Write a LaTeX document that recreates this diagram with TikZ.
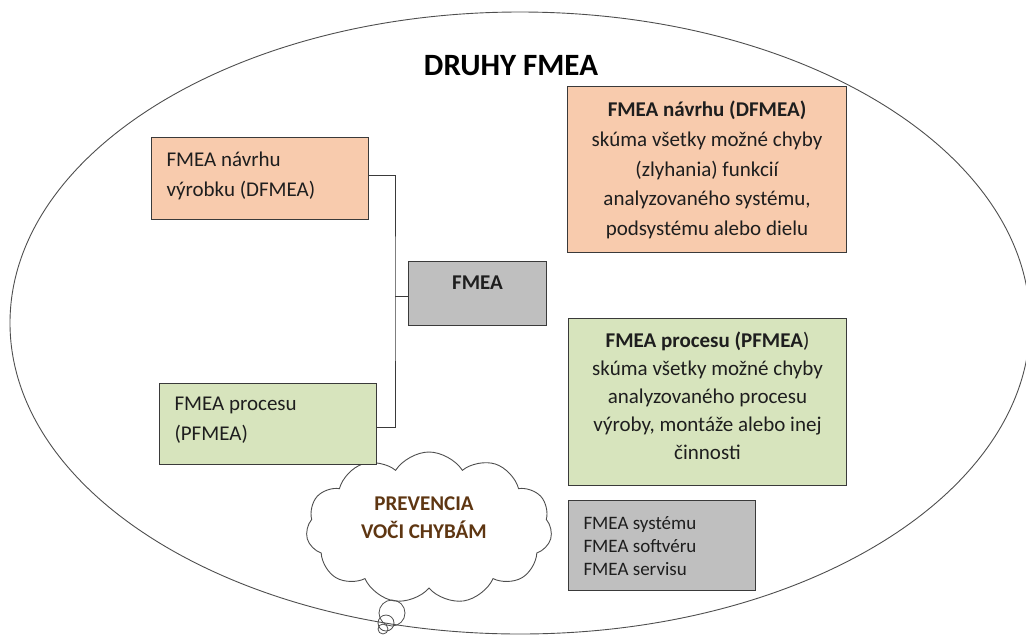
\documentclass[tikz,border=0pt]{standalone}
\usepackage{fontspec}
\setmainfont{Carlito}
\usetikzlibrary{shapes.symbols}

\definecolor{peach}{HTML}{F8CBAD}
\definecolor{sage}{HTML}{D7E4BD}
\definecolor{ash}{HTML}{BFBFBF}
\definecolor{edge}{HTML}{3A3A3A}
\definecolor{ink}{HTML}{1E1E1E}
\definecolor{umber}{HTML}{5E3612}

% #1 width, #2 height, #3 top gap, #4 alignment code, #5 first-line height, #6 text
\newcommand{\boxbody}[6]{%
  \parbox[c][#2][t]{#1}{\vspace*{#3}#4\rule{0pt}{#5}#6\par}}
\newcommand{\flushin}{\raggedright\leftskip=15pt\relax}

\begin{document}
\begin{tikzpicture}[x=1pt,y=-1pt,
  panel/.style={draw=edge, line width=1pt, inner sep=0pt, anchor=north west, text=ink},
  conn/.style={draw=edge, line width=1pt},
  ring/.style={draw=edge!90, line width=0.9pt},
  bubble/.style={circle, draw=edge!90, line width=0.8pt, inner sep=0pt}]
\useasboundingbox (0,0) rectangle (1026,638);
\clip (0,0) rectangle (1026,638);

% outer boundary
\draw[ring] (520,323) ellipse [x radius=510, y radius=311];

% thought cloud
\node[cloud, draw=edge!90, line width=0.9pt, cloud puffs=11, cloud puff arc=115,
      cloud ignores aspect, minimum width=246pt, minimum height=152pt, inner sep=0pt] (cl) at (429,528) {};
\node[anchor=base, align=center, text=umber, font=\fontsize{21}{28}\selectfont\bfseries] (cltext) at (424,538)
  {PREVENCIA\\ VOČI CHYBÁM};
\node[bubble, minimum size=26pt] (b1) at (392,613) {};
\node[bubble, minimum size=16pt] (b2) at (386,623) {};
\node[bubble, minimum size=10pt] (b3) at (383,629) {};

% title
\node[anchor=base, font=\fontsize{31}{36}\selectfont\bfseries] (title) at (511,75) {DRUHY FMEA};

% left column
\node[panel, fill=peach] (dl) at (151,137)
  {\boxbody{217pt}{82pt}{8pt}{\flushin}{21pt}{\fontsize{21}{30}\selectfont FMEA návrhu\\ výrobku (DFMEA)}};
\node[panel, fill=sage] (pl) at (159,383)
  {\boxbody{217pt}{81pt}{6pt}{\flushin}{21pt}{\fontsize{21}{30}\selectfont FMEA procesu\\ (PFMEA)}};

% central box
\node[panel, fill=ash] (fm) at (408,261)
  {\boxbody{138pt}{64pt}{7pt}{\centering}{21pt}{\fontsize{21}{30}\selectfont\bfseries FMEA}};

% connectors
\coordinate (bus) at (395,296);
\draw[conn] ([yshift=3pt]dl.east) -| (bus) |- ([yshift=-3.5pt]pl.east);
\draw[conn] (bus) -- (bus -| fm.west);

% right column
\node[panel, fill=peach] (dr) at (567,86)
  {\boxbody{279pt}{166pt}{9pt}{\centering}{21pt}{\fontsize{21}{29.75}\selectfont
    \textbf{FMEA návrhu (DFMEA)}\\ skúma všetky možné chyby\\ (zlyhania) funkcií\\ analyzovaného systému,\\ podsystému alebo dielu}};
\node[panel, fill=sage] (pr) at (568,318)
  {\boxbody{278pt}{167pt}{8pt}{\centering}{21pt}{\fontsize{21}{28}\selectfont
    \textbf{FMEA procesu (PFMEA}){}\\ skúma všetky možné chyby\\ analyzovaného procesu\\ výroby, montáže alebo inej\\ činnosti}};
\node[panel, fill=ash] (other) at (568,500)
  {\boxbody{187pt}{90pt}{10pt}{\flushin}{19pt}{\fontsize{19}{23}\selectfont
    FMEA systému\\ FMEA softvéru\\ FMEA servisu}};
\end{tikzpicture}
\end{document}
